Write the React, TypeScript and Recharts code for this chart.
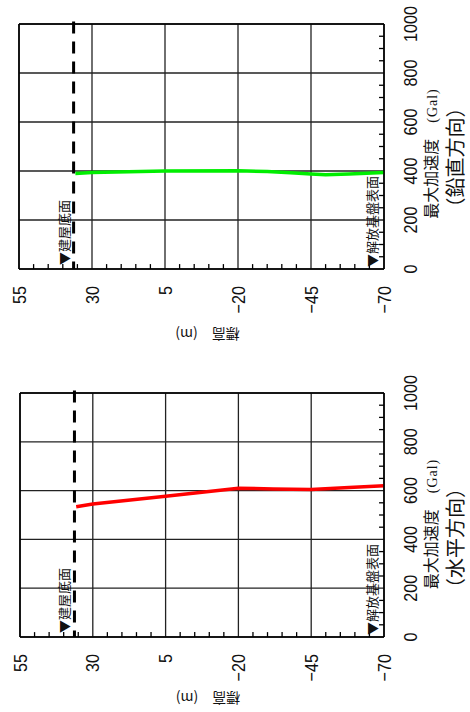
import { LineChart, Line, XAxis, YAxis, CartesianGrid, ReferenceLine } from 'recharts';

// elevation (m) axis, drawn left → right from 55 down to -70
const ELEV_TICKS = [55, 30, 5, -20, -45, -70];
const ELEV_MINOR = [
  50, 45, 40, 35, 25, 20, 15, 10, 0, -5, -10, -15, -25, -30, -35, -40, -50, -55, -60, -65,
];
// peak acceleration (Gal) axis
const ACC_TICKS = [0, 200, 400, 600, 800, 1000];
const ACC_MINOR = [50, 100, 150, 250, 300, 350, 450, 500, 550, 650, 700, 750, 850, 900, 950];

// inward minor tick length, in axis units (about 5px each way)
const TICK_LEN_ACC = 20;
const TICK_LEN_ELEV = 1.7;

// 建屋底面 elevation
const BASE_EL = 36.3;

// vertical direction profile
const VERT_EL = [35.7, 30, 5, -20, -30, -38, -45, -50, -58, -70];
const VERT_ACC = [390, 394, 400, 401, 398, 393, 388, 385, 388, 394];

// horizontal direction profile
const HORZ_EL = [35.7, 30, 5, -20, -32, -45, -58, -70];
const HORZ_ACC = [534, 545, 577, 610, 607, 605, 613, 620];

const SANS = '"Liberation Sans", Arial, sans-serif';
const SERIF = '"Liberation Serif", "Times New Roman", serif';
const CJK = '"Noto Sans CJK JP", "Noto Sans CJK SC", sans-serif';
const INK = '#111';

const fmt = (v: number) => (v < 0 ? `\u2212${Math.abs(v)}` : String(v));

function ElevTick({ x, y, payload }: any) {
  return (
    <text
      transform={`translate(${x + 6.5},${y + 17}) rotate(-90) scale(0.85,1)`}
      textAnchor="end"
      fontSize={19}
      fontFamily={SANS}
      fill={INK}
    >
      {fmt(payload.value)}
    </text>
  );
}

function AccTick({ x, y, payload }: any) {
  return (
    <text
      transform={`translate(${x + 33},${y}) rotate(-90) scale(0.85,1)`}
      textAnchor="middle"
      fontSize={19}
      fontFamily={SANS}
      fill={INK}
    >
      {payload.value}
    </text>
  );
}

function AccTitle({ viewBox, dir, c1, c2 }: any) {
  const { x, y, height } = viewBox;
  const cy = y + height / 2;
  return (
    <g>
      <text
        transform={`translate(${x + 53},${cy + c1}) rotate(-90)`}
        textAnchor="middle"
        fontFamily={CJK}
        fontSize={16}
        fill={INK}
      >
        最大加速度
        <tspan dx={16} fontSize={14} fontFamily={SERIF} letterSpacing={1}>
          (Gal)
        </tspan>
      </text>
      <text
        transform={`translate(${x + 79},${cy + c2}) rotate(-90)`}
        textAnchor="middle"
        fontFamily={CJK}
        fontSize={20}
        fill={INK}
      >
        （{dir}）
      </text>
    </g>
  );
}

function ElevTitle({ viewBox, dy }: any) {
  const { x, y, width } = viewBox;
  return (
    <text
      transform={`translate(${x + width / 2 + 6},${y + dy}) rotate(180)`}
      textAnchor="middle"
      fontFamily={CJK}
      fontSize={14}
      fill={INK}
    >
      標高　(m)
    </text>
  );
}

function SideNote({ viewBox, text, dx, dy }: any) {
  const { x, y, height } = viewBox;
  return (
    <text
      transform={`translate(${x + dx},${y + height - dy}) rotate(-90)`}
      textAnchor="start"
      fontFamily={CJK}
      fontSize={13}
      fill={INK}
    >
      {text}
    </text>
  );
}

type PanelProps = {
  top: number;
  height: number;
  margin: { top: number; right: number; bottom: number; left: number };
  elev: number[];
  acc: number[];
  color: string;
  dir: string;
  c1: number;
  c2: number;
  titleDy: number;
};

function Panel({ top, height, margin, elev, acc, color, dir, c1, c2, titleDy }: PanelProps) {
  const rows = elev.map((e, i) => ({ elev: e, acc: acc[i] }));
  return (
    <div style={{ position: 'absolute', left: 0, top }}>
      <LineChart width={470} height={height} data={rows} margin={margin}>
        <CartesianGrid
          stroke="#222"
          strokeWidth={1.3}
          verticalValues={ELEV_TICKS}
          horizontalValues={ACC_TICKS}
        />
        <XAxis
          type="number"
          dataKey="elev"
          domain={[-70, 55]}
          reversed
          ticks={ELEV_TICKS}
          interval={0}
          height={45}
          tickSize={0}
          tickMargin={0}
          tickLine={false}
          axisLine={{ stroke: '#000', strokeWidth: 1.6 }}
          tick={(p: any) => <ElevTick {...p} />}
          label={(p: any) => <ElevTitle {...p} dy={titleDy} />}
        />
        <YAxis
          orientation="right"
          type="number"
          domain={[0, 1000]}
          ticks={ACC_TICKS}
          interval={0}
          width={40}
          tickSize={0}
          tickMargin={0}
          tickLine={false}
          axisLine={{ stroke: '#000', strokeWidth: 1.6 }}
          tick={(p: any) => <AccTick {...p} />}
          label={(p: any) => <AccTitle {...p} dir={dir} c1={c1} c2={c2} />}
        />
        {/* frame: top and left edges */}
        <ReferenceLine y={1000} stroke="#000" strokeWidth={1.6} />
        <ReferenceLine x={55} stroke="#000" strokeWidth={1.6} />
        {/* inward minor ticks along the bottom and right edges */}
        {ELEV_MINOR.map((v) => (
          <ReferenceLine
            key={`mx${v}`}
            segment={[
              { x: v, y: 0 },
              { x: v, y: TICK_LEN_ACC },
            ]}
            ifOverflow="visible"
            stroke="#000"
            strokeWidth={1.3}
          />
        ))}
        {ACC_MINOR.map((v) => (
          <ReferenceLine
            key={`my${v}`}
            segment={[
              { x: -70, y: v },
              { x: -70 + TICK_LEN_ELEV, y: v },
            ]}
            ifOverflow="visible"
            stroke="#000"
            strokeWidth={1.3}
          />
        ))}
        {/* 建屋底面 */}
        <ReferenceLine
          segment={[
            { x: BASE_EL, y: 1010 },
            { x: BASE_EL, y: 0 },
          ]}
          ifOverflow="visible"
          stroke="#000"
          strokeWidth={3}
          strokeDasharray="12 8"
          label={(p: any) => <SideNote {...p} text="▼建屋底面" dx={-5} dy={4} />}
        />
        {/* 解放基盤表面 */}
        <ReferenceLine
          x={-70}
          stroke="none"
          label={(p: any) => <SideNote {...p} text="▼解放基盤表面" dx={-7.5} dy={2} />}
        />
        <Line
          type="linear"
          dataKey="acc"
          stroke={color}
          strokeWidth={3.5}
          dot={false}
          isAnimationActive={false}
        />
      </LineChart>
    </div>
  );
}

export default function App() {
  return (
    <div
      style={{
        position: 'absolute',
        left: 0,
        top: 0,
        width: 470,
        height: 712,
        background: '#fff',
        overflow: 'hidden',
      }}
    >
      <Panel
        top={0}
        height={350}
        margin={{ top: 24, right: 46, bottom: 36, left: 19 }}
        elev={VERT_EL}
        acc={VERT_ACC}
        color="#00ee00"
        dir="鉛直方向"
        c1={7}
        c2={11}
        titleDy={60}
      />
      <Panel
        top={360}
        height={352}
        margin={{ top: 33, right: 46, bottom: 30, left: 20 }}
        elev={HORZ_EL}
        acc={HORZ_ACC}
        color="#ff0000"
        dir="水平方向"
        c1={9}
        c2={23}
        titleDy={56}
      />
    </div>
  );
}
